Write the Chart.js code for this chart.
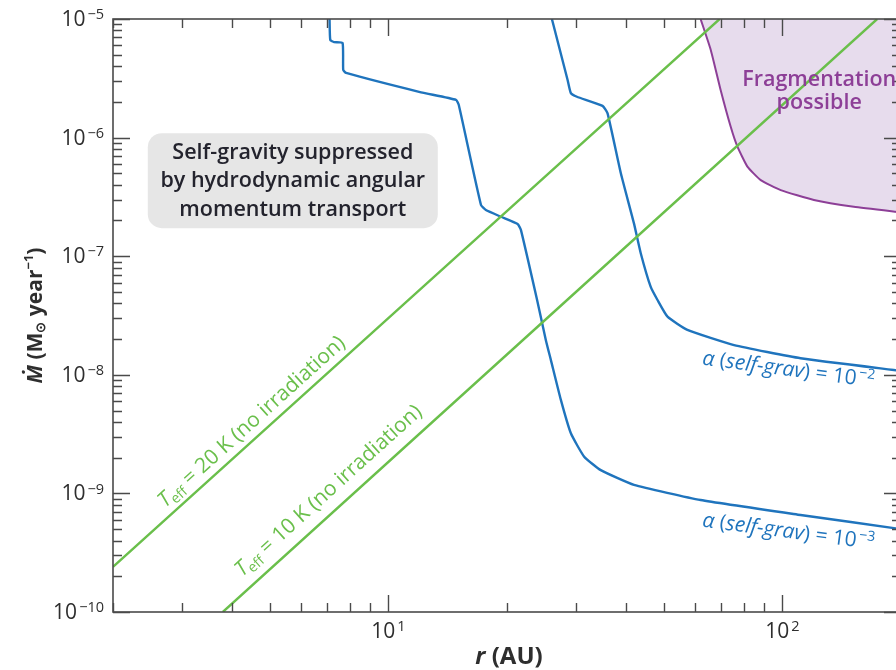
<!DOCTYPE html>
<html>
<head>
<meta charset="utf-8">
<script src="https://cdn.jsdelivr.net/npm/chart.js@4/dist/chart.umd.min.js"></script>
<style>
  html, body { margin: 0; padding: 0; background: #fff; overflow: hidden; }
  #wrap { width: 906px; height: 670px; position: relative; }
  canvas { display: block; }
</style>
</head>
<body>
<div id="wrap"><canvas id="c" width="906" height="670"></canvas></div>
<script>
// Disc radius r (AU) and accretion rate Mdot (M_sun / year)

// alpha (self-grav) = 1e-3 threshold
const alpha3R = [7.09, 7.12, 7.28, 7.65, 7.68, 7.81, 12.1, 14.85, 15.09, 17.18, 17.68, 19.31, 21.28, 21.70, 23.8, 25.1, 25.85, 27.4, 29.05, 31.4, 34.6, 42.0, 62.0, 111.2, 200];
const alpha3M = [1e-5, 6.65e-6, 6.39e-6, 6.28e-6, 3.72e-6, 3.51e-6, 2.41e-6, 2.08e-6, 1.88e-6, 2.70e-7, 2.45e-7, 2.15e-7, 1.87e-7, 1.66e-7, 4.4e-8, 1.96e-8, 1.33e-8, 6.14e-9, 3.21e-9, 2.04e-9, 1.57e-9, 1.18e-9, 8.79e-10, 6.58e-10, 5.0e-10];

// alpha (self-grav) = 1e-2 threshold
const alpha2R = [26.0, 28.5, 29.05, 30.1, 34.96, 36.0, 38.9, 42.0, 43.7, 46.3, 48.2, 51.1, 57.4, 75.4, 111.2, 200];
const alpha2M = [1e-5, 3.06e-6, 2.37e-6, 2.21e-6, 1.85e-6, 1.60e-6, 5.00e-7, 1.89e-7, 1.06e-7, 5.53e-8, 4.27e-8, 3.09e-8, 2.39e-8, 1.78e-8, 1.38e-8, 1.08e-8];

// lower edge of the fragmentation region
const fragR = [62.0, 65.8, 69.7, 73.9, 76.9, 81.5, 88.1, 99.0, 120.2, 151.8, 200];
const fragM = [1e-5, 5.48e-6, 2.52e-6, 1.24e-6, 8.38e-7, 5.69e-7, 4.38e-7, 3.61e-7, 2.98e-7, 2.61e-7, 2.34e-7];

// constant effective temperature, no irradiation
const teff20R = [2, 69.3];
const teff20M = [2.4e-10, 1e-5];
const teff10R = [3.8, 174];
const teff10M = [1e-10, 1e-5];

// axes: major tick values and the exponent shown in each "10^n" label
const xTickValues = [10, 100];
const xTickExps = ['1', '2'];
const yTickValues = [1e-10, 1e-9, 1e-8, 1e-7, 1e-6, 1e-5];
const yTickExps = ['−10', '−9', '−8', '−7', '−6', '−5'];

const FONT = '"Open Sans", "Noto Sans", sans-serif';
const BLUE = '#1f74bd';
const GREEN = '#6abf4b';
const PURPLE = '#8d3f97';
const INK = '#2e2e2e';

const pts = (rs, ms) => rs.map((r, i) => ({ x: r, y: ms[i] }));

// draws a run of differently styled text pieces; align 'center' or 'right'
function drawRich(ctx, parts, x, y, angle, align) {
  ctx.save();
  ctx.translate(x, y);
  ctx.rotate(angle || 0);
  let total = 0;
  parts.forEach(p => { ctx.font = p.font; p.w = ctx.measureText(p.text).width; total += p.w + (p.gap || 0); });
  let cx = align === 'right' ? -total : -total / 2;
  ctx.textBaseline = 'middle';
  ctx.textAlign = 'left';
  parts.forEach(p => {
    cx += p.gap || 0;
    ctx.font = p.font;
    ctx.fillStyle = p.color;
    ctx.fillText(p.text, cx, p.dy || 0);
    cx += p.w;
  });
  ctx.restore();
}

// axis frame with inward tick marks on all four sides, plus "10^n" labels
const frameTicks = {
  id: 'frameTicks',
  afterDatasetsDraw(chart) {
    const { ctx, chartArea: a, scales: { x, y } } = chart;
    ctx.save();
    ctx.strokeStyle = '#4a4a4a';
    ctx.lineWidth = 1.6;
    ctx.strokeRect(a.left, a.top, a.right - a.left, a.bottom - a.top);
    ctx.lineWidth = 1.4;
    const marks = (scale) => {
      const out = [];
      const e0 = Math.floor(Math.log10(scale.min)), e1 = Math.ceil(Math.log10(scale.max));
      for (let e = e0; e <= e1; e++) {
        for (let m = 1; m <= 9; m++) {
          const v = m * Math.pow(10, e);
          if (v >= scale.min * 0.999 && v <= scale.max * 1.001) out.push({ v, major: m === 1 });
        }
      }
      return out;
    };
    ctx.beginPath();
    marks(x).forEach(t => {
      const px = Math.round(x.getPixelForValue(t.v)) + 0.5;
      const len = t.major ? 17 : 9;
      ctx.moveTo(px, a.bottom); ctx.lineTo(px, a.bottom - len);
      ctx.moveTo(px, a.top); ctx.lineTo(px, a.top + len);
    });
    marks(y).forEach(t => {
      const py = Math.round(y.getPixelForValue(t.v)) + 0.5;
      const len = t.major ? 17 : 9;
      ctx.moveTo(a.left, py); ctx.lineTo(a.left + len, py);
      ctx.moveTo(a.right, py); ctx.lineTo(a.right - len, py);
    });
    ctx.stroke();
    ctx.restore();

    const tickLabel = exp => [
      { text: '10', font: '21px ' + FONT, color: INK },
      { text: exp, font: '14.5px ' + FONT, color: INK, dy: -5, gap: 2 }
    ];
    x.ticks.forEach(t => {
      drawRich(ctx, tickLabel(xTickExps[xTickValues.indexOf(t.value)]), x.getPixelForValue(t.value), a.bottom + 20, 0, 'center');
    });
    y.ticks.forEach(t => {
      const k = yTickValues.findIndex(v => Math.abs(v - t.value) / v < 1e-6);
      drawRich(ctx, tickLabel(yTickExps[k]), a.left - 9, y.getPixelForValue(t.value) + 1, 0, 'right');
    });
  }
};

// region labels, curve labels and axis titles
const annotations = {
  id: 'annotations',
  afterDatasetsDraw(chart) {
    const { ctx, scales: { x, y } } = chart;
    const X = v => x.getPixelForValue(v), Y = v => y.getPixelForValue(v);

    // grey note box
    const bx = X(5.72), by = Y(4.33e-7), bw = 290, bh = 95, rad = 14;
    ctx.save();
    ctx.fillStyle = '#e6e6e6';
    ctx.beginPath();
    ctx.roundRect(bx - bw / 2, by - bh / 2, bw, bh, rad);
    ctx.fill();
    ctx.fillStyle = '#23232d';
    ctx.font = '600 21.5px ' + FONT;
    ctx.textAlign = 'center';
    ctx.textBaseline = 'middle';
    ['Self-gravity suppressed', 'by hydrodynamic angular', 'momentum transport']
      .forEach((s, i) => ctx.fillText(s, bx, by - 28 + i * 28.5));
    ctx.restore();

    // fragmentation label
    ctx.save();
    ctx.fillStyle = PURPLE;
    ctx.font = '600 21.5px ' + FONT;
    ctx.textAlign = 'center';
    ctx.textBaseline = 'middle';
    ctx.fillText('Fragmentation', X(124), Y(3.06e-6));
    ctx.fillText('possible', X(124), Y(1.96e-6));
    ctx.restore();

    // Teff labels, aligned with their lines
    const teffLabel = (rs, ms, r0, m0, txt) => {
      const ang = Math.atan2(Y(ms[1]) - Y(ms[0]), X(rs[1]) - X(rs[0]));
      drawRich(ctx, [
        { text: 'T', font: 'italic 21px ' + FONT, color: GREEN },
        { text: 'eff', font: '14px ' + FONT, color: GREEN, dy: 6 },
        { text: txt, font: '21px ' + FONT, color: GREEN }
      ], X(r0), Y(m0), ang);
    };
    teffLabel(teff20R, teff20M, 4.5, 4.0e-9, ' = 20 K (no irradiation)');
    teffLabel(teff10R, teff10M, 7.05, 1.05e-9, ' = 10 K (no irradiation)');

    // alpha labels
    const alphaLabel = (r0, m0, exp) => {
      drawRich(ctx, [
        { text: 'α', font: 'italic 21px ' + FONT, color: BLUE },
        { text: ' (', font: '21px ' + FONT, color: BLUE },
        { text: 'self-grav', font: 'italic 21px ' + FONT, color: BLUE },
        { text: ') = 10', font: '21px ' + FONT, color: BLUE },
        { text: exp, font: '14px ' + FONT, color: BLUE, dy: -6, gap: 2 }
      ], X(r0), Y(m0), 7.5 * Math.PI / 180);
    };
    alphaLabel(103.6, 1.10e-8, '−2');
    alphaLabel(103.6, 4.73e-10, '−3');

    // axis titles
    const a = chart.chartArea;
    drawRich(ctx, [
      { text: 'r', font: 'italic 700 24px ' + FONT, color: INK },
      { text: ' (AU)', font: '700 24px ' + FONT, color: INK }
    ], (a.left + a.right) / 2 + 2, 657, 0);
    drawRich(ctx, [
      { text: 'Ṁ', font: 'italic 700 21px ' + FONT, color: INK },
      { text: ' (M', font: '700 21px ' + FONT, color: INK },
      { text: '⊙', font: '700 13px ' + FONT, color: INK, dy: 5 },
      { text: ' year', font: '700 21px ' + FONT, color: INK },
      { text: '−1', font: '700 13px ' + FONT, color: INK, dy: -7 },
      { text: ')', font: '700 21px ' + FONT, color: INK }
    ], 36, (a.top + a.bottom) / 2, -Math.PI / 2);
  }
};

const lineDs = (data, color, width) => ({
  data, borderColor: color, borderWidth: width, pointRadius: 0,
  showLine: true, fill: false, tension: 0.15
});

new Chart(document.getElementById('c'), {
  type: 'scatter',
  data: {
    datasets: [
      lineDs(pts(teff20R, teff20M), GREEN, 2.4),
      lineDs(pts(teff10R, teff10M), GREEN, 2.4),
      lineDs(pts(alpha3R, alpha3M), BLUE, 2.4),
      lineDs(pts(alpha2R, alpha2M), BLUE, 2.4),
      Object.assign(lineDs(pts(fragR, fragM), PURPLE, 2), { fill: 'end', backgroundColor: '#e7dced' })
    ]
  },
  options: {
    responsive: false,
    animation: false,
    devicePixelRatio: 1,
    layout: { padding: { top: 19, right: 5, left: 0, bottom: 0 } },
    plugins: { legend: { display: false }, tooltip: { enabled: false } },
    scales: {
      x: {
        type: 'logarithmic', min: 2, max: 200, position: 'bottom',
        grid: { display: false, drawTicks: false },
        border: { display: false },
        afterBuildTicks: s => { s.ticks = xTickValues.map(v => ({ value: v })); },
        afterFit: s => { s.height = 58; },
        ticks: { display: false }
      },
      y: {
        type: 'logarithmic', min: 1e-10, max: 1e-5, position: 'left',
        grid: { display: false, drawTicks: false },
        border: { display: false },
        afterBuildTicks: s => { s.ticks = yTickValues.map(v => ({ value: v })); },
        afterFit: s => { s.width = 113; },
        ticks: { display: false }
      }
    }
  },
  plugins: [frameTicks, annotations]
});
</script>
</body>
</html>
